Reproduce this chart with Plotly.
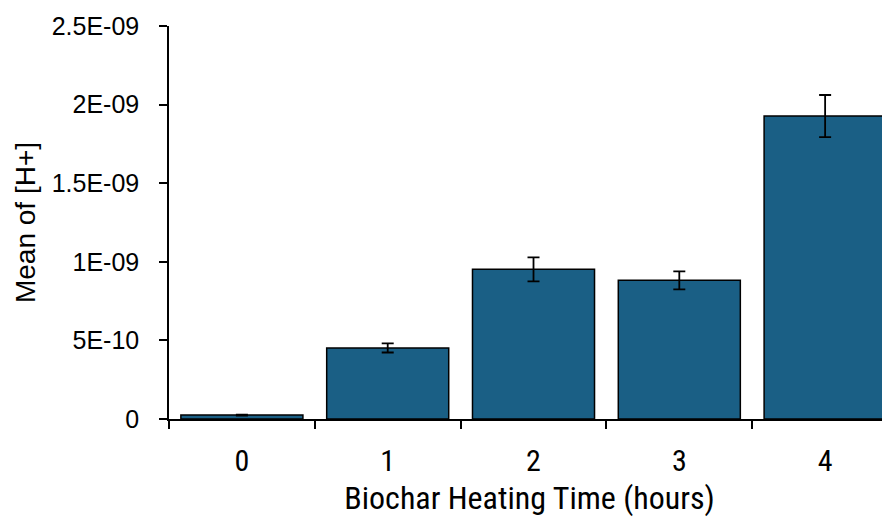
import plotly.graph_objects as go

# data
hours = ["0", "1", "2", "3", "4"]
mean_h = [0.025e-9, 0.452e-9, 0.952e-9, 0.882e-9, 1.927e-9]
err_h = [0.003e-9, 0.029e-9, 0.076e-9, 0.057e-9, 0.134e-9]

y_tickvals = [0, 0.5e-9, 1.0e-9, 1.5e-9, 2.0e-9, 2.5e-9]
y_ticktext = ["0", "5E-10", "1E-09", "1.5E-09", "2E-09", "2.5E-09"]

narrow = "Liberation Sans Narrow, Roboto Condensed, sans-serif"

fig = go.Figure()
fig.add_trace(
    go.Bar(
        x=hours,
        y=mean_h,
        width=0.837,
        marker=dict(color="#1A5F85", line=dict(color="black", width=1.5)),
        error_y=dict(type="data", array=err_h, visible=True, color="black", thickness=1.8, width=6),
    )
)

# page body adds 8px margin, so the figure is shrunk by 8 and margins shifted
fig.update_layout(
    width=882,
    height=509,
    margin=dict(l=161, r=0, t=18, b=98),
    paper_bgcolor="white",
    plot_bgcolor="white",
    showlegend=False,
    font=dict(family="Liberation Sans, Arial, sans-serif", color="black"),
)

fig.update_xaxes(
    type="category",
    range=[-0.5, 4.445],
    showline=True,
    linecolor="black",
    linewidth=1.5,
    ticks="outside",
    tickson="boundaries",
    ticklen=8,
    tickcolor="black",
    tickwidth=1.5,
    showgrid=False,
    tickfont=dict(size=30, family=narrow),
    ticklabelstandoff=14,
    title=dict(text="Biochar Heating Time (hours)", font=dict(size=32, family=narrow), standoff=10),
)

fig.update_yaxes(
    range=[0, 2.5e-9],
    tickvals=y_tickvals,
    ticktext=y_ticktext,
    showline=True,
    linecolor="black",
    linewidth=1.5,
    ticks="outside",
    ticklen=8,
    tickcolor="black",
    tickwidth=1.5,
    showgrid=False,
    zeroline=False,
    tickfont=dict(size=25),
    ticklabelstandoff=15,
    title=dict(text="Mean of [H+]", font=dict(size=28), standoff=8),
)

fig.write_html("out.html")
